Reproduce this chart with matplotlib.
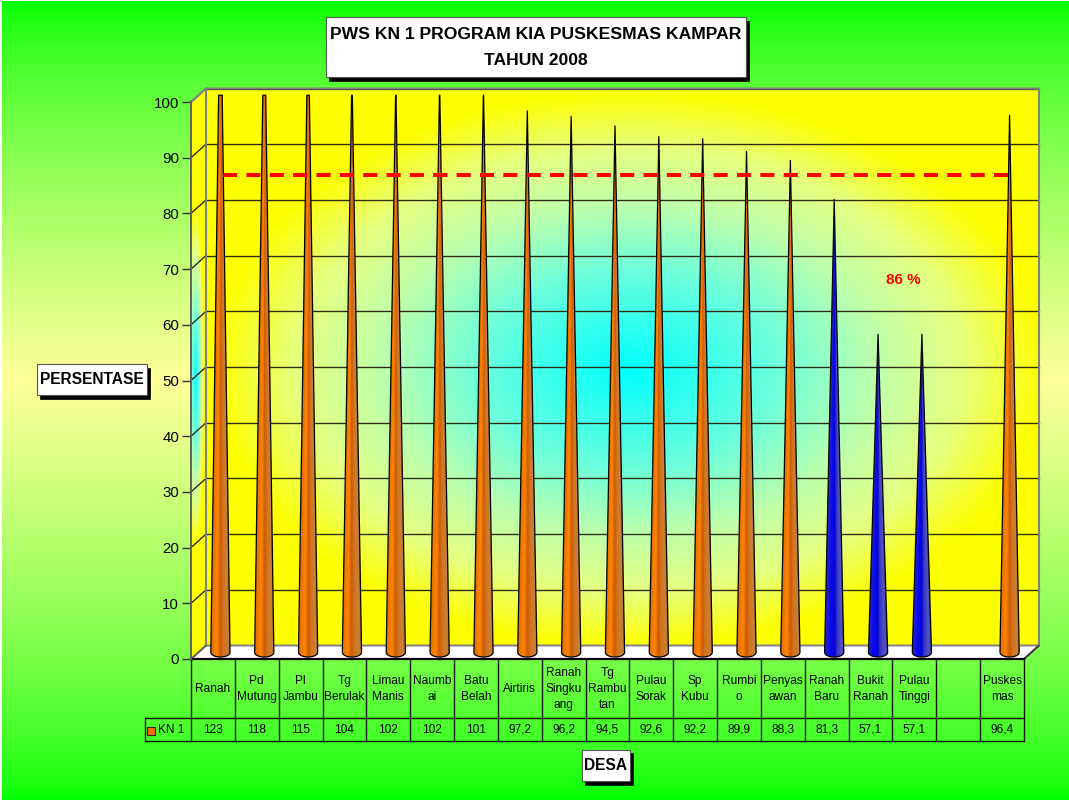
import matplotlib

matplotlib.use("Agg")

import matplotlib.pyplot as plt
import numpy as np
from matplotlib.colors import to_rgb
from matplotlib.patches import Polygon, Rectangle

plt.rcParams["font.family"] = ["Liberation Sans", "DejaVu Sans"]

desa = [
    "Ranah", "Pd\nMutung", "Pl\nJambu", "Tg\nBerulak", "Limau\nManis", "Naumb\nai",
    "Batu\nBelah", "Airtiris", "Ranah\nSingku\nang", "Tg\nRambu\ntan", "Pulau\nSorak",
    "Sp\nKubu", "Rumbi\no", "Penyas\nawan", "Ranah\nBaru", "Bukit\nRanah", "Pulau\nTinggi",
    "", "Puskes\nmas",
]
kn1 = [
    123, 118, 115, 104, 102, 102, 101, 97.2, 96.2, 94.5, 92.6, 92.2, 89.9, 88.3,
    81.3, 57.1, 57.1, None, 96.4,
]
y_ticks = list(range(0, 101, 10))
target_label = "86 %"
target_limit = 86
target_drawn = 85.6

W, H = 1069, 800
LEFT, RIGHT, ZERO, TOP = 191, 1024, 659, 102
CELL = (RIGHT - LEFT) / len(desa)
UNIT = (ZERO - TOP) / 100
DX, DY = 15 / CELL, 13.5 / UNIT  # kedalaman 3D dalam satuan data

ORANGE = ["#e06c08", "#f07800", "#fc8606", "#e87000", "#cc5804", "#d0741c", "#cc8036", "#b06c24"]
BLUE = ["#2424b8", "#1c1cd8", "#0808f0", "#0808e8", "#0404d0", "#3434c8", "#5454c0", "#3a3a9c"]
STOPS = [0.0, 0.12, 0.28, 0.38, 0.48, 0.62, 0.85, 1.0]

WALL_T = [0.0, 0.36, 0.6, 0.8, 1.0]
WALL_R = [0.0, 0.43, 0.75, 0.90, 1.0]
WALL_B = [1.0, 0.86, 0.67, 0.50, 0.0]


def xd(px):
    return (px - LEFT) / CELL


def yd(py):
    return (ZERO - py) / UNIT


def hot_cold(x, y, cx, cy, rx, ry):
    t = np.clip(np.hypot((x - cx) / rx, (y - cy) / ry), 0, 1)
    rgb = np.zeros(x.shape + (3,))
    rgb[..., 0] = np.interp(t, WALL_T, WALL_R)
    rgb[..., 1] = 1
    rgb[..., 2] = np.interp(t, WALL_T, WALL_B)
    return rgb


def draw_box(page, x0, y0, x1, y1, lines, size, line_ys):
    page.add_patch(Rectangle((x0 + 3, y0 + 3.5), x1 - x0, y1 - y0, fc="black", ec="black", lw=0.5))
    page.add_patch(Rectangle((x0, y0), x1 - x0, y1 - y0, fc="white", ec="#555555", lw=0.8))
    for line, ly in zip(lines, line_ys):
        page.text((x0 + x1) / 2, ly, line, ha="center", va="center", fontsize=size,
                  fontweight="bold", color="black")


def draw_cone(ax, center, base, value, colors):
    half = 9.6 / CELL
    arc = 4.8 / UNIT
    top = min(value, 100)
    top_half = half * (1 - top / value)
    rgb = np.array([to_rgb(c) for c in colors])

    nrow, ncol = 500, 60
    ys = np.linspace(top + 0.2, -arc, nrow)
    xs = np.linspace(-1, 1, ncol)
    widths = np.maximum(half * (1 - np.clip(ys, 0, None) / value), 1e-4)
    u = np.clip(xs[None, :] * half / widths[:, None], -1, 1) * 0.5 + 0.5
    img = np.dstack([np.interp(u, STOPS, rgb[:, k]) for k in range(3)])

    ang = np.linspace(np.pi, 2 * np.pi, 30)
    arc_x = center + half * np.cos(ang)
    arc_y = base + arc * np.sin(ang)
    outline = np.vstack([
        np.column_stack([arc_x, arc_y]),
        [[center + top_half, base + top], [center - top_half, base + top]],
    ])
    patch = Polygon(outline, closed=True, fc="none", ec="black", lw=0.9, zorder=5,
                    clip_on=False, joinstyle="round")
    ax.add_patch(patch)
    im = ax.imshow(img, extent=(center - half, center + half, base - arc, base + top + 0.2),
                   aspect="auto", interpolation="bilinear", zorder=4)
    im.set_clip_path(patch)
    im.set_clip_box(ax.figure.bbox)


def main() -> None:
    fig = plt.figure(figsize=(W / 100, H / 100), dpi=100, facecolor="white")

    # Latar halaman
    page = fig.add_axes([0, 0, 1, 1])
    page.set_axis_off()
    yy = np.linspace(0, H, 400)[:, None]
    f = np.where(yy < 380, yy / 380, (H - yy) / (H - 380)) ** 0.7
    bg = np.dstack([f, np.ones_like(f), f * 0.6])
    page.imshow(bg, extent=(2, W, H, 1), aspect="auto", interpolation="bilinear")
    page.set_xlim(0, W)
    page.set_ylim(H, 0)

    draw_box(page, 325.5, 17, 746, 77, ["PWS KN 1 PROGRAM KIA PUSKESMAS KAMPAR", "TAHUN 2008"],
             12.6, [34.5, 60.5])
    draw_box(page, 36.5, 364, 146.5, 395, ["PERSENTASE"], 11.2, [380])
    draw_box(page, 582, 749.5, 629.5, 781, ["DESA"], 11.2, [765.5])

    ax = fig.add_axes([LEFT / W, (H - ZERO) / H, (RIGHT - LEFT) / W, (ZERO - TOP) / H])
    ax.patch.set_visible(False)
    n = len(desa)

    # Dinding belakang
    gx = np.linspace(0, n, 300)
    gy = np.linspace(100, 0, 300)
    X, Y = np.meshgrid(gx, gy)
    wall = hot_cold(X * CELL, Y * UNIT, xd(629) * CELL - DX * CELL, yd(370) * UNIT - DY * UNIT,
                    416, 278)
    ax.imshow(wall, extent=(DX, n + DX, DY, 100 + DY), aspect="auto", interpolation="bilinear",
              zorder=1, clip_on=False)

    # Dinding samping
    side_poly = Polygon([[0, 0], [DX, DY], [DX, 100 + DY], [0, 100]], closed=True, fc="none",
                        ec="none", zorder=1, clip_on=False)
    ax.add_patch(side_poly)
    sx = np.linspace(0, DX, 40)
    sy = np.linspace(100 + DY, 0, 300)
    SX, SY = np.meshgrid(sx, sy)
    side = hot_cold(SX * CELL, SY * UNIT, 4.5, yd(378) * UNIT, 9, 170)
    im = ax.imshow(side, extent=(0, DX, 0, 100 + DY), aspect="auto", interpolation="bilinear",
                   zorder=1)
    im.set_clip_path(side_poly)
    im.set_clip_box(fig.bbox)

    # Lantai
    ax.add_patch(Polygon([[0, 0], [DX, DY], [n + DX, DY], [n, 0]], closed=True, fc="white",
                         ec="#808080", lw=1.4, zorder=2, clip_on=False))
    # Garis bantu di dinding
    for v in y_ticks[1:]:
        ax.plot([DX, n + DX], [v + DY, v + DY], color="#2a2a10", lw=0.95, zorder=3, clip_on=False)
        ax.plot([0, DX], [v, v + DY], color="#222222", lw=0.95, zorder=3, clip_on=False)

    # Bingkai dinding
    ax.plot([0, DX, n + DX, n + DX, n], [100, 100 + DY, 100 + DY, DY, 0], color="#808080", lw=1.5,
            zorder=3, clip_on=False, solid_joinstyle="miter")
    ax.plot([DX, DX], [DY, 100 + DY], color="#808080", lw=1.5, zorder=3, clip_on=False)
    ax.plot([n, n + DX], [0, DY], color="#303030", lw=1.0, zorder=3, clip_on=False)
    ax.plot([0, DX], [0, DY], color="#606060", lw=1.2, zorder=3, clip_on=False)

    # Kerucut
    for i, value in enumerate(kn1):
        if value is None:
            continue
        colors = ORANGE if value >= target_limit else BLUE
        draw_cone(ax, i + 0.5 + DX / 2, DY / 2, value, colors)

    # Garis target
    ax.plot([xd(223), xd(1013)], [target_drawn + DY / 2] * 2, color="#ff0000", lw=2.9,
            dashes=(3.5, 2.3), dash_capstyle="butt", zorder=6, clip_on=False)
    ax.text(xd(903), yd(280), target_label, color="#ff0000", fontsize=11, fontweight="bold",
            ha="center", va="center", zorder=7)

    # Tabel data
    row1, row2 = yd(718), yd(740.5)
    table_color = "#101810"
    ax.plot([0, n], [0, 0], color="black", lw=1.6, zorder=6, clip_on=False)
    ax.plot([xd(144.5), n], [row1, row1], color=table_color, lw=1.0, clip_on=False, zorder=6)
    ax.plot([xd(144.5), n], [row2, row2], color=table_color, lw=1.0, clip_on=False, zorder=6)
    ax.plot([xd(144.5)] * 2, [row1, row2], color=table_color, lw=1.0, clip_on=False, zorder=6)
    for i in range(n + 1):
        ax.plot([i, i], [0, row2], color=table_color, lw=1.0, clip_on=False, zorder=6)

    for i, (name, value) in enumerate(zip(desa, kn1)):
        ax.text(i + 0.5, yd(689), name, ha="center", va="center", fontsize=8.6, linespacing=1.42,
                clip_on=False)
        if value is not None:
            ax.text(i + 0.5, yd(730), str(value).replace(".", ","), ha="center", va="center",
                    fontsize=8.6, clip_on=False)

    ax.add_patch(Rectangle((xd(147), yd(735)), 8 / CELL, 8 / UNIT, fc="#ff6a00", ec="#222222",
                           lw=0.8, clip_on=False, zorder=6))
    ax.text(xd(157.5), yd(730), "KN 1", ha="left", va="center", fontsize=8.6, clip_on=False)

    ax.set_xlim(0, n)
    ax.set_ylim(0, 100)
    ax.set_xticks([])
    ax.set_yticks(y_ticks)
    ax.tick_params(axis="y", length=6.5, width=1.0, color="#333333", labelsize=10.8, pad=2)
    for name in ["top", "right", "bottom"]:
        ax.spines[name].set_visible(False)
    ax.spines["left"].set_color("#606060")
    ax.spines["left"].set_linewidth(1.4)
    ax.spines["left"].set_zorder(6)

    fig.savefig("out.png", dpi=100, facecolor="white")
    plt.close(fig)


if __name__ == "__main__":
    main()
